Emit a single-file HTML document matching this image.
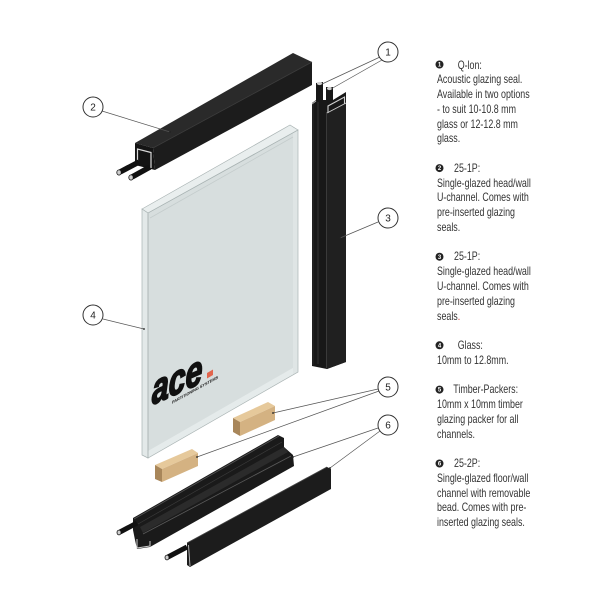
<!DOCTYPE html>
<html>
<head>
<meta charset="utf-8">
<style>
  html,body{margin:0;padding:0;background:#fff;overflow:hidden;}
  body{width:600px;height:600px;position:relative;overflow:hidden;}
  .col{position:absolute;left:437px;top:57.5px;font-family:"Liberation Sans",sans-serif;font-size:12px;line-height:14.77px;color:#333;transform:scaleX(0.74);transform-origin:0 0;}
  .col div{height:14.77px;white-space:nowrap;}
</style>
</head>
<body>
<svg width="600" height="600" viewBox="0 0 600 600" style="position:absolute;left:0;top:0">
  <!-- Glass -->
  <polygon points="148,213 298,130 298,372 148,458" fill="#d7dede"/>
  <polygon points="148,451 298,365 298,372 148,458" fill="#e5ebeb"/>
  <polygon points="293,133 298,130 298,372 293,375" fill="#dfe5e5"/>
  <line x1="150" y1="218" x2="293" y2="137" stroke="#c4cccc" stroke-width="0.8"/>
  <polygon points="142,209 290,125 298,130 148,213" fill="#e9eeee" stroke="#a9b3b3" stroke-width="0.7"/>
  <polygon points="142,209 148,213 148,458 142,455" fill="#e3e9e9" stroke="#a9b3b3" stroke-width="0.7"/>
  <polygon points="148,213 298,130 298,372 148,458" fill="none" stroke="#aab4b4" stroke-width="0.7"/>

  <!-- ace logo -->
  <g transform="translate(152,405) skewY(-24) scale(0.72,1)">
    <text x="0" y="0" font-family="Liberation Sans, sans-serif" font-weight="bold" font-style="italic" font-size="42" fill="#111" stroke="#111" stroke-width="1.8">ace</text>
  </g>
  <polygon points="207,373 213,369.5 213,375 207,378.5" fill="#e2654d"/>
  <g transform="translate(172,404) skewY(-29)">
    <text x="0" y="0" font-family="Liberation Sans, sans-serif" font-weight="bold" font-size="4.2" fill="#222" textLength="46" lengthAdjust="spacingAndGlyphs">PARTITIONING SYSTEMS</text>
  </g>

  <!-- Top channel (2) -->
  <polygon points="135,143 293,53 312,62 153,148" fill="#2a2a2a"/>
  <polygon points="153,148 312,62 312,85 155,170" fill="#1c1c1c"/>
  <line x1="153" y1="148" x2="312" y2="62" stroke="#3c3c3c" stroke-width="0.8"/>
  <polygon points="135,143 153,148 155,170 135,165" fill="#141414"/>
  <polyline points="137.5,164 137.5,149 151,152.5 151,168" fill="none" stroke="#d8d8d8" stroke-width="1.2"/>
  <line x1="120" y1="172" x2="139" y2="162" stroke="#111" stroke-width="5.5"/>
  <line x1="132" y1="177" x2="150" y2="167" stroke="#111" stroke-width="5.5"/>
  <ellipse cx="119" cy="172.5" rx="2.2" ry="2.6" fill="#cfcfcf" stroke="#111" stroke-width="0.8"/>
  <ellipse cx="131" cy="177.5" rx="2.2" ry="2.6" fill="#cfcfcf" stroke="#111" stroke-width="0.8"/>

  <!-- Vertical channel (3) -->
  <polygon points="312,103 316,100 316,83 323,82 323,100 326,100 326,87 333,87 333,100 346,92 346,362 327,369 312,366" fill="#181818"/>
  <polygon points="327,113 346,103 346,362 327,369" fill="#202020"/>
  <line x1="318" y1="102" x2="318" y2="364" stroke="#3a3a3a" stroke-width="0.8"/>
  <line x1="326.5" y1="112" x2="326.5" y2="368" stroke="#444" stroke-width="0.8"/>
  <line x1="313" y1="104" x2="313" y2="365" stroke="#333" stroke-width="0.6"/>
  <polyline points="328,113 328,106 344.5,97 344.5,104" fill="none" stroke="#d0d0d0" stroke-width="1.1"/>
  <line x1="327" y1="113" x2="346" y2="103" stroke="#cfcfcf" stroke-width="0.9"/>
  <line x1="312" y1="104" x2="316" y2="101" stroke="#bbb" stroke-width="0.8"/>
  <ellipse cx="319.5" cy="83.5" rx="2.6" ry="1.6" fill="#cfcfcf"/>
  <ellipse cx="329.5" cy="88.5" rx="2.6" ry="1.6" fill="#cfcfcf"/>

  <!-- Timber packers (5) -->
  <polygon points="233,418 268,402 275,406 240,422" fill="#e6c99b"/>
  <polygon points="240,422 275,406 275,420 240,436" fill="#d4b282"/>
  <polygon points="233,418 240,422 240,436 233,432" fill="#a8865a"/>
  <polygon points="155,465 192,449 198,453 162,469" fill="#e6c99b"/>
  <polygon points="162,469 198,453 198,466 162,482" fill="#d4b282"/>
  <polygon points="155,465 162,469 162,482 155,479" fill="#a8865a"/>

  <!-- Bottom channel 6a -->
  <polygon points="133,518 278,435 284,438 284,447 293,455 294,466 150,547 137,549 135,540 133,530" fill="#1a1a1a"/>
  <polygon points="140,527 284,447 288,452 143,533" fill="#2b2b2b"/>
  <line x1="134" y1="519" x2="279" y2="436" stroke="#555" stroke-width="0.8"/>
  <line x1="143" y1="534" x2="291" y2="456" stroke="#5a5a5a" stroke-width="0.8"/>
  <line x1="138" y1="524" x2="282" y2="442" stroke="#3a3a3a" stroke-width="0.7"/>
  <polyline points="137,539 137,548 150,546 150,541" fill="none" stroke="#cfcfcf" stroke-width="1"/>
  <line x1="120" y1="532" x2="137" y2="523" stroke="#111" stroke-width="5"/>
  <ellipse cx="119" cy="532.5" rx="2" ry="2.4" fill="#cfcfcf" stroke="#111" stroke-width="0.8"/>

  <!-- Bead 6b -->
  <polygon points="187,543 327,467 331,469 331,489 190,567 187,565" fill="#1c1c1c"/>
  <line x1="187" y1="543" x2="327" y2="467" stroke="#444" stroke-width="0.8"/>
  <line x1="188.5" y1="545" x2="190" y2="566" stroke="#bdbdbd" stroke-width="0.9"/>
  <line x1="168" y1="557" x2="187" y2="547" stroke="#111" stroke-width="5"/>
  <ellipse cx="167" cy="557.5" rx="2" ry="2.4" fill="#cfcfcf" stroke="#111" stroke-width="0.8"/>

  <!-- Leader lines -->
  <g stroke="#555" stroke-width="0.7" fill="none">
    <line x1="380" y1="57" x2="322" y2="84"/>
    <line x1="382" y1="60" x2="331" y2="89"/>
    <line x1="102" y1="111" x2="170" y2="132"/>
    <line x1="378" y1="222" x2="340" y2="238"/>
    <line x1="103" y1="319" x2="144" y2="329"/>
    <line x1="378" y1="389" x2="273" y2="413"/>
    <line x1="379" y1="391" x2="197" y2="457"/>
    <line x1="378" y1="428" x2="293" y2="457"/>
    <line x1="380" y1="431" x2="330" y2="468"/>
  </g>
  <g fill="#222">
    <circle cx="170" cy="132" r="0.9"/>
    <circle cx="340" cy="238" r="0.9"/>
    <circle cx="144" cy="329" r="0.9"/>
    <circle cx="273" cy="413" r="0.9"/>
    <circle cx="197" cy="457" r="0.9"/>
    <circle cx="293" cy="457" r="0.9"/>
    <circle cx="330" cy="468" r="0.9"/>
  </g>

  <!-- Callout circles -->
  <g stroke="#333" stroke-width="1" fill="#fff">
    <circle cx="388" cy="52" r="10"/>
    <circle cx="93" cy="107" r="10"/>
    <circle cx="388" cy="218" r="10"/>
    <circle cx="93" cy="315" r="10"/>
    <circle cx="388" cy="387" r="10"/>
    <circle cx="388" cy="425" r="10"/>
  </g>
  <g font-family="Liberation Sans, sans-serif" font-size="10" fill="#222" text-anchor="middle">
    <text x="388" y="55.5">1</text>
    <text x="93" y="110.5">2</text>
    <text x="388" y="221.5">3</text>
    <text x="93" y="318.5">4</text>
    <text x="388" y="390.5">5</text>
    <text x="388" y="428.5">6</text>
  </g>

  <!-- Bullets -->
  <g fill="#222">
    <circle cx="439.5" cy="64.5" r="4"/>
    <circle cx="439.5" cy="168.1" r="4"/>
    <circle cx="439.5" cy="256.7" r="4"/>
    <circle cx="439.5" cy="345.3" r="4"/>
    <circle cx="439.5" cy="389.6" r="4"/>
    <circle cx="439.5" cy="463.5" r="4"/>
  </g>
  <g font-family="Liberation Sans, sans-serif" font-size="6" font-weight="bold" fill="#fff" text-anchor="middle">
    <text x="439.5" y="66.6">1</text>
    <text x="439.5" y="170.2">2</text>
    <text x="439.5" y="258.8">3</text>
    <text x="439.5" y="347.4">4</text>
    <text x="439.5" y="391.7">5</text>
    <text x="439.5" y="465.6">6</text>
  </g>
</svg>

<div class="col"><div style="padding-left:28px">Q-lon:</div><div>Acoustic glazing seal.</div><div>Available in two options</div><div>- to suit 10-10.8 mm</div><div>glass or 12-12.8 mm</div><div>glass.</div><div></div><div style="padding-left:23px">25-1P:</div><div>Single-glazed head/wall</div><div>U-channel. Comes with</div><div>pre-inserted glazing</div><div>seals.</div><div></div><div style="padding-left:23px">25-1P:</div><div>Single-glazed head/wall</div><div>U-channel. Comes with</div><div>pre-inserted glazing</div><div>seals<span style="color:#c33">.</span></div><div></div><div style="padding-left:28px">Glass:</div><div>10mm to 12.8mm.</div><div></div><div style="padding-left:22px">Timber-Packers:</div><div>10mm x 10mm timber</div><div>glazing packer for all</div><div>channels.</div><div></div><div style="padding-left:23px">25-2P:</div><div>Single-glazed floor/wall</div><div>channel with removable</div><div>bead. Comes with pre-</div><div>inserted glazing seals.</div></div>
</body>
</html>
